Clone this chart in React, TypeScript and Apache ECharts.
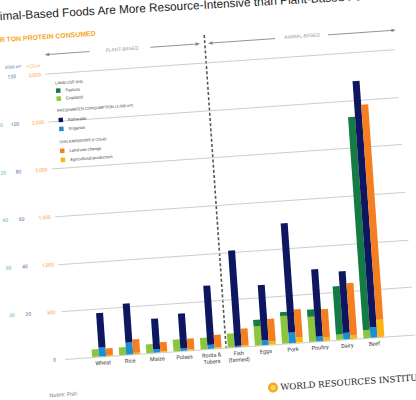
import React, { useEffect, useRef } from "react";
import * as echarts from "echarts";

// ---- data (per ton of protein consumed) ----
const categories = ["Wheat", "Rice", "Maize", "Pulses", "Roots &\nTubers", "Fish\n(farmed)", "Eggs", "Pork", "Poultry", "Dairy", "Beef"];
// Land use (ha)
const cropland = [4.8, 4.9, 5.5, 7.4, 7.3, 8.8, 12.2, 17.5, 15.8, 3.4, 5];
const pasture = [0, 0, 0, 0, 0, 0, 4, 2.5, 4.5, 30.4, 134.5];
// Freshwater consumption (1,000 m3)
const irrigation = [3.7, 5, 1.4, 1, 1.7, 0.5, 2, 4.5, 2, 2.8, 4.3];
const rainwater = [14.6, 16.5, 12.9, 14.7, 24.9, 40.1, 23.3, 46, 28.3, 25.9, 103.7];
// GHG emissions (t CO2e)
const agriculturalProduction = [10, 12, 10, 10, 12, 15, 35, 55, 35, 40, 180];
const landUseChange = [70, 142, 95, 114, 131, 174, 235, 297, 300, 547, 2268];
// axis ticks [min, max, interval]
const landTicks = [0, 180, 30];
const waterTicks = [0, 120, 20];
const ghgTicks = [0, 3000, 500];

const W = 440;
const H = 420;
const GRID_TOP = 73.4;
const GRID_H = 285.6;

const C = {
  pasture: "#137b43",
  cropland: "#8cc63f",
  rain: "#0e1660",
  irrig: "#1a8fd6",
  luc: "#f47e20",
  agri: "#fcb614",
  greenLbl: "#5cb87e",
  blueLbl: "#4a6fa5",
  orangeLbl: "#f5a33a",
};

function txt(x: number, y: number, text: string, s: any, extra: any = {}) {
  return {
    type: "text",
    x,
    y,
    silent: true,
    ...extra,
    style: {
      text,
      fontFamily: "Liberation Sans",
      textVerticalAlign: "middle",
      verticalAlign: "middle",
      ...s,
    },
  };
}

function arrow(tipX: number, y: number, dir: number) {
  return {
    type: "polygon",
    silent: true,
    shape: { points: [[tipX, y], [tipX - dir * 4.5, y - 1.8], [tipX - dir * 4.5, y + 1.8]] },
    style: { fill: "#888" },
  };
}

function hline(x1: number, x2: number, y: number) {
  return {
    type: "line",
    silent: true,
    shape: { x1, y1: y, x2, y2: y },
    style: { stroke: "#8a8a8a", lineWidth: 0.9 },
  };
}

export default function App() {
  const ref = useRef<HTMLDivElement>(null);

  useEffect(() => {
    if (!ref.current) return;
    const chart = echarts.init(ref.current, null, { renderer: "svg" });
    const catLabel = { fontSize: 5.5, color: "#333", fontFamily: "Roboto", lineHeight: 6.5 };
    const barCommon = { type: "bar", xAxisIndex: 1, barWidth: 7, barGap: "0%", silent: true };
    const legendText = { fontSize: 4.2, color: "#444", fontFamily: "Roboto", lineHeight: 4.5 };

    const option: any = {
      animation: false,
      backgroundColor: "#fff",
      grid: [
        { left: 65, top: GRID_TOP, width: 351, height: GRID_H },
        { left: 89.1, top: GRID_TOP, width: 299.2, height: GRID_H },
      ],
      xAxis: [
        { gridIndex: 0, type: "value", min: 0, max: 1, show: false },
        {
          gridIndex: 1,
          type: "category",
          data: categories,
          axisLine: { show: false },
          axisTick: { show: false },
          axisLabel: { ...catLabel, margin: 3, interval: 0 },
        },
      ],
      yAxis: [
        {
          gridIndex: 0,
          type: "value",
          min: ghgTicks[0],
          max: ghgTicks[1],
          interval: ghgTicks[2],
          axisLabel: { show: false },
          axisLine: { show: false },
          axisTick: { show: false },
          splitLine: { lineStyle: { color: "#c9c9c9", width: 0.9 } },
        },
        {
          gridIndex: 1,
          type: "value",
          min: landTicks[0],
          max: landTicks[1],
          interval: landTicks[2],
          position: "left",
          axisLine: { show: false },
          axisTick: { show: false },
          splitLine: { show: false },
          axisLabel: {
            margin: 74,
            align: "center",
            fontSize: 5,
            color: C.greenLbl,
            fontFamily: "Roboto",
            formatter: (v: number) => (v === 0 ? "" : String(v)),
          },
        },
        {
          gridIndex: 1,
          type: "value",
          min: waterTicks[0],
          max: waterTicks[1],
          interval: waterTicks[2],
          position: "left",
          axisLine: { show: false },
          axisTick: { show: false },
          splitLine: { show: false },
          axisLabel: {
            margin: 57.6,
            align: "center",
            fontSize: 5,
            color: C.blueLbl,
            fontFamily: "Roboto",
            formatter: (v: number) => (v === 0 ? "" : String(v)),
          },
        },
        {
          gridIndex: 1,
          type: "value",
          min: ghgTicks[0],
          max: ghgTicks[1],
          interval: ghgTicks[2],
          position: "left",
          axisLine: { show: false },
          axisTick: { show: false },
          splitLine: { show: false },
          axisLabel: {
            margin: 34.5,
            align: "center",
            fontSize: 5,
            fontFamily: "Roboto",
            color: (v: any) => (Number(v) === 0 ? "#666" : C.orangeLbl),
            formatter: (v: number) => v.toLocaleString("en-US"),
          },
        },
      ],
      legend: [
        {
          data: ["Pasture", "Cropland"],
          left: 74.7,
          top: 88.5,
          orient: "vertical",
          padding: 0,
          itemWidth: 4.5,
          itemHeight: 4.5,
          itemGap: 3.5,
          icon: "rect",
          selectedMode: false,
          textStyle: legendText,
        },
        {
          data: ["Rainwater", "Irrigation"],
          left: 75.2,
          top: 118,
          orient: "vertical",
          padding: 0,
          itemWidth: 4.5,
          itemHeight: 4.5,
          itemGap: 4.5,
          icon: "rect",
          selectedMode: false,
          textStyle: legendText,
        },
        {
          data: ["Land-use change", "Agricultural production"],
          left: 74.5,
          top: 149,
          orient: "vertical",
          padding: 0,
          itemWidth: 4.5,
          itemHeight: 4.5,
          itemGap: 4.5,
          icon: "rect",
          selectedMode: false,
          textStyle: legendText,
        },
      ],
      series: [
        { ...barCommon, name: "Cropland", yAxisIndex: 1, stack: "land", data: cropland, itemStyle: { color: C.cropland } },
        { ...barCommon, name: "Pasture", yAxisIndex: 1, stack: "land", data: pasture, itemStyle: { color: C.pasture } },
        { ...barCommon, name: "Irrigation", yAxisIndex: 2, stack: "water", data: irrigation, itemStyle: { color: C.irrig } },
        { ...barCommon, name: "Rainwater", yAxisIndex: 2, stack: "water", data: rainwater, itemStyle: { color: C.rain } },
        { ...barCommon, name: "Agricultural production", yAxisIndex: 3, stack: "ghg", data: agriculturalProduction, itemStyle: { color: C.agri } },
        { ...barCommon, name: "Land-use change", yAxisIndex: 3, stack: "ghg", data: landUseChange, itemStyle: { color: C.luc } },
      ],
      graphic: [
        txt(9.5, 12.3, "Animal-Based Foods Are More Resource-Intensive than Plant-Based Foods", { fontSize: 11.8, fill: "#1a1a1a" }, { rotation: -0.014 }),
        txt(13, 36, "PER TON PROTEIN CONSUMED", { fontSize: 6.9, fontWeight: "bold", fill: "#f5a623" }),
        // axis unit headers
        txt(15, 64, "ha", { fontSize: 4.5, fill: C.greenLbl, align: "center", textAlign: "center" }),
        txt(33.5, 64, "1000 m³", { fontSize: 4.5, fill: C.blueLbl, align: "center", textAlign: "center" }),
        txt(54, 64.5, "t CO₂e", { fontSize: 4.5, fill: C.orangeLbl, align: "center", textAlign: "center" }),
        // legend titles
        txt(74.5, 83, "LAND USE (ha)", { fontSize: 3.9, fill: "#333" }),
        txt(74.5, 110.5, "FRESHWATER CONSUMPTION (1,000 m³)", { fontSize: 3.9, fill: "#333" }),
        txt(74.5, 142, "GHG EMISSIONS (t CO₂e)", { fontSize: 3.9, fill: "#333" }),
        // plant / animal divider
        {
          type: "line",
          silent: true,
          shape: { x1: 226.5, y1: 45.5, x2: 226.5, y2: 359 },
          style: { stroke: "#555", lineWidth: 1.6, lineDash: [3, 2.2] },
        },
        hline(68, 111, 54),
        hline(172, 219, 54),
        arrow(66, 54, -1),
        arrow(221.7, 54, 1),
        txt(143.5, 54, "PLANT-BASED", { fontSize: 4.8, fill: "#9a9a9a", align: "center", textAlign: "center" }),
        hline(232, 297, 54),
        hline(350, 415, 54),
        arrow(229.7, 54, -1),
        arrow(418, 54, 1),
        txt(324, 53.5, "ANIMAL-BASED", { fontSize: 4.8, fill: "#9a9a9a", align: "center", textAlign: "center" }),
        // WRI logo
        { type: "circle", silent: true, shape: { cx: 270.5, cy: 402, r: 5 }, style: { fill: "#f7a81b" } },
        { type: "circle", silent: true, shape: { cx: 270.5, cy: 402, r: 2.6 }, style: { fill: "#fcd36a" } },
        txt(278, 402, "WORLD RESOURCES INSTITUTE", { fontSize: 8.6, fill: "#222", fontFamily: "DejaVu Serif" }),
        txt(47, 394, "Notes: Fish", { fontSize: 5.5, fill: "#777" }),
      ],
    };
    chart.setOption(option);
    return () => chart.dispose();
  }, []);

  return (
    <div style={{ position: "fixed", left: 0, top: 0, width: 416, height: 400, overflow: "hidden", background: "#fff" }}>
      <div
        ref={ref}
        style={{
          position: "absolute",
          left: 0,
          top: 0,
          width: W,
          height: H,
          transform: "rotate(-4deg)",
          transformOrigin: "65px 359px",
        }}
      />
    </div>
  );
}
